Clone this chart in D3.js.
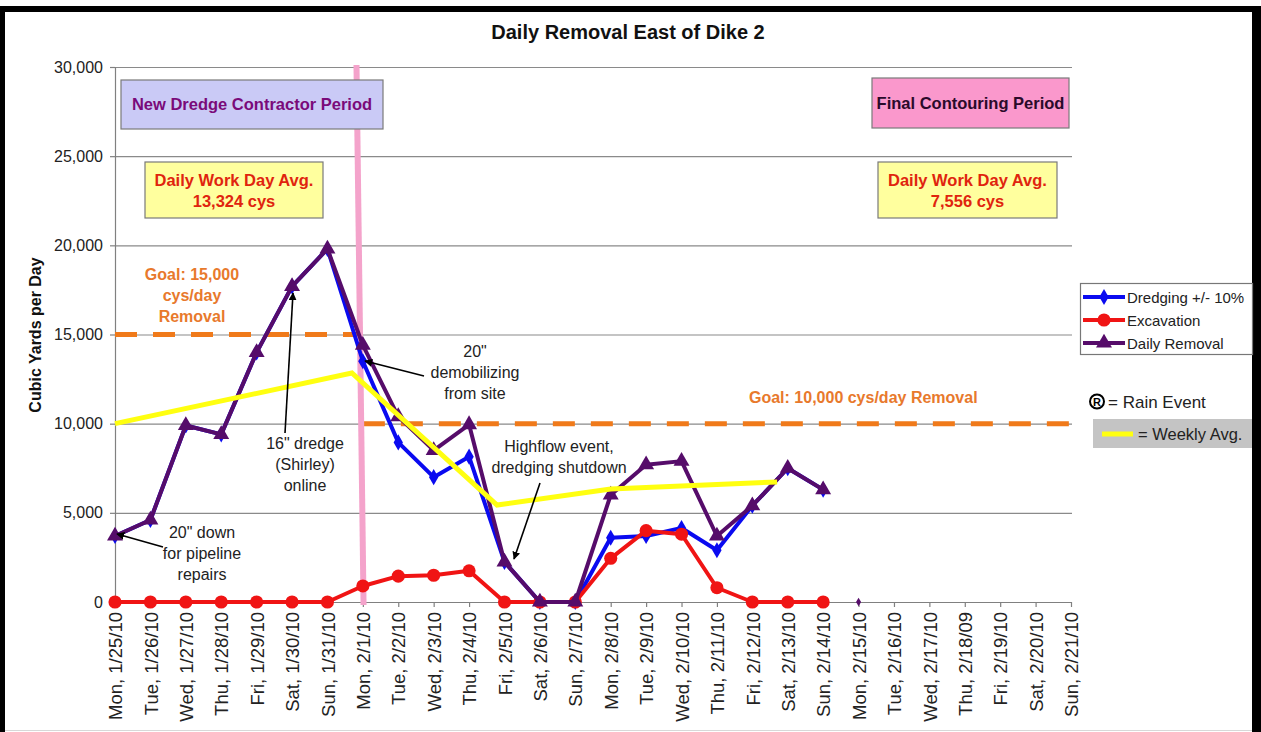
<!DOCTYPE html>
<html>
<head>
<meta charset="utf-8">
<script src="https://cdn.jsdelivr.net/npm/d3@7"></script>
<style>
  body { margin: 0; background: #fff; }
  text { font-family: Arial, "Liberation Sans", sans-serif; }
</style>
</head>
<body>
<div id="chart"></div>
<script>
// category labels (one per day)
var days = ["Mon, 1/25/10", "Tue, 1/26/10", "Wed, 1/27/10", "Thu, 1/28/10", "Fri, 1/29/10",
  "Sat, 1/30/10", "Sun, 1/31/10", "Mon, 2/1/10", "Tue, 2/2/10", "Wed, 2/3/10", "Thu, 2/4/10",
  "Fri, 2/5/10", "Sat, 2/6/10", "Sun, 2/7/10", "Mon, 2/8/10", "Tue, 2/9/10", "Wed, 2/10/10",
  "Thu, 2/11/10", "Fri, 2/12/10", "Sat, 2/13/10", "Sun, 2/14/10", "Mon, 2/15/10", "Tue, 2/16/10",
  "Wed, 2/17/10", "Thu, 2/18/09", "Fri, 2/19/10", "Sat, 2/20/10", "Sun, 2/21/10"];

// series values (cubic yards / day), first 21 days
var dredging = [3700, 4600, 9900, 9400, 14000, 17700, 19800, 13500, 8950, 7000, 8150,
  2250, 0, 0, 3600, 3700, 4150, 2900, 5400, 7500, 6300];
var excavation = [0, 0, 0, 0, 0, 0, 0, 900, 1450, 1500, 1750,
  0, 0, 0, 2450, 4000, 3800, 800, 0, 0, 0];
var dailyRemoval = [3700, 4600, 9900, 9400, 14000, 17700, 19800, 14400, 10400, 8500, 9950,
  2250, 0, 0, 6000, 7700, 7900, 3700, 5400, 7500, 6300];
var strayPoint = [{i: 21, v: 0}];

// weekly average trace (fractional day index, value)
var weeklyIdx = [0, 6.69, 10.79, 14.0, 18.7];
var weeklyVal = [10000, 12840, 5440, 6340, 6730];

// goals: [startIdx, endIdx, value]
var goals = [[0, 7, 15000], [7, 27, 10000]];
// period boundary (day index at top / bottom of plot)
var boundaryIdx = [6.82, 7.02];

var yTicks = [0, 5000, 10000, 15000, 20000, 25000, 30000];

var W = 1261, H = 732;
var plotL = 115, plotR = 1071, plotT = 67, plotB = 602;

var svg = d3.select("#chart").append("svg")
  .attr("width", W).attr("height", H);

// frame
svg.append("rect").attr("x", 0).attr("y", 6).attr("width", W).attr("height", H).attr("fill", "#000");
svg.append("rect").attr("x", 5).attr("y", 12).attr("width", 1247).attr("height", H).attr("fill", "#fff");
svg.append("line").attr("x1", 5).attr("x2", 1252).attr("y1", 730.5).attr("y2", 730.5)
  .attr("stroke", "#d8d8d8");

var x = d3.scalePoint().domain(days).range([plotL, plotR]);
var xi = d3.scaleLinear().domain([0, days.length - 1]).range([plotL, plotR]);
var y = d3.scaleLinear().domain([0, 30000]).range([plotB, plotT]);

// title
svg.append("text").attr("x", 628).attr("y", 39).attr("text-anchor", "middle")
  .attr("font-size", 20).attr("font-weight", "bold").attr("fill", "#111")
  .text("Daily Removal East of Dike 2");

// gridlines
svg.append("g")
  .attr("transform", `translate(${plotL},0)`)
  .call(d3.axisLeft(y).tickValues(yTicks).tickSize(-(plotR - plotL + 1)).tickFormat(""))
  .call(g => g.select(".domain").remove())
  .selectAll("line").attr("stroke", "#8a8a8a").attr("stroke-width", 1.2);

// y axis
var yAxis = svg.append("g")
  .attr("transform", `translate(${plotL},0)`)
  .call(d3.axisLeft(y).tickValues(yTicks).tickSize(5).tickPadding(7).tickFormat(d3.format(",")));
yAxis.selectAll("path,line").attr("stroke", "#808080").attr("stroke-width", 1.2);
yAxis.selectAll("text").attr("font-size", 16).attr("fill", "#222")
  .style("font-family", "Arial, 'Liberation Sans', sans-serif");

// x axis
var xAxis = svg.append("g")
  .attr("transform", `translate(0,${plotB})`)
  .call(d3.axisBottom(x).tickSize(5).tickSizeOuter(0));
xAxis.selectAll("path,line").attr("stroke", "#808080").attr("stroke-width", 1.2);
xAxis.selectAll("text")
  .attr("transform", "rotate(-90)")
  .attr("text-anchor", "end")
  .attr("x", -10).attr("y", 0).attr("dy", "0.36em")
  .attr("font-size", 18.5).attr("fill", "#222")
  .style("font-family", "Arial, 'Liberation Sans', sans-serif");

// y axis title
svg.append("text")
  .attr("transform", "rotate(-90)")
  .attr("x", -335).attr("y", 41)
  .attr("text-anchor", "middle")
  .attr("font-size", 16).attr("font-weight", "bold").attr("fill", "#111")
  .text("Cubic Yards per Day");

// goal lines
svg.selectAll("line.goal").data(goals).enter().append("line")
  .attr("class", "goal")
  .attr("x1", d => xi(d[0])).attr("x2", d => xi(d[1]))
  .attr("y1", d => y(d[2])).attr("y2", d => y(d[2]))
  .attr("stroke", "#F07A1A").attr("stroke-width", 5)
  .attr("stroke-dasharray", "22,16");

// period boundary
svg.append("line")
  .attr("x1", xi(boundaryIdx[0])).attr("x2", xi(boundaryIdx[1]))
  .attr("y1", plotT - 2).attr("y2", plotB + 3)
  .attr("stroke", "#F4A3CB").attr("stroke-width", 6);

// series
var series = [
  {name: "Dredging +/- 10%", values: dredging, color: "#0A0AF0", symbol: d3.symbolDiamond, size: 75},
  {name: "Excavation", values: excavation, color: "#F01414", symbol: d3.symbolCircle, size: 135},
  {name: "Daily Removal", values: dailyRemoval, color: "#560C6A", symbol: d3.symbolTriangle, size: 110}
];

var line = d3.line()
  .x((d, i) => x(days[i]))
  .y(d => y(d));

series.forEach(function(s) {
  svg.append("path")
    .datum(s.values)
    .attr("d", line)
    .attr("fill", "none")
    .attr("stroke", s.color)
    .attr("stroke-width", 4)
    .attr("stroke-linejoin", "round");
  svg.selectAll(null).data(s.values).enter()
    .append("path")
    .attr("transform", (d, i) => `translate(${x(days[i])},${y(d)})`)
    .attr("d", d3.symbol().type(s.symbol).size(s.size))
    .attr("fill", s.color);
});

svg.selectAll(null).data(strayPoint).enter()
  .append("path")
  .attr("transform", d => `translate(${xi(d.i)},${y(d.v)})`)
  .attr("d", d3.symbol().type(d3.symbolDiamond).size(22))
  .attr("fill", "#560C6A");

// weekly avg
svg.append("path")
  .datum(weeklyIdx.map((d, i) => [d, weeklyVal[i]]))
  .attr("d", d3.line().x(d => xi(d[0])).y(d => y(d[1])))
  .attr("fill", "none")
  .attr("stroke", "#FFFF10")
  .attr("stroke-width", 5);

// boxes
function box(x0, y0, w, h, fill, lines, color, baselines) {
  svg.append("rect").attr("x", x0).attr("y", y0).attr("width", w).attr("height", h)
    .attr("fill", fill).attr("stroke", "#7a7a7a").attr("stroke-width", 1.2);
  lines.forEach(function(t, k) {
    svg.append("text").attr("x", x0 + w / 2).attr("y", baselines[k])
      .attr("text-anchor", "middle").attr("font-size", 16.5).attr("font-weight", "bold")
      .attr("fill", color).text(t);
  });
}
box(121, 80, 262, 49, "#CACAF6", ["New Dredge Contractor Period"], "#7A0A7A", [110]);
box(145, 162, 178, 56, "#FFFF9E", ["Daily Work Day Avg.", "13,324 cys"], "#E0240E", [186, 207]);
box(872, 78, 197, 50, "#FA98CC", ["Final Contouring Period"], "#2A0A2A", [109]);
box(878, 162, 179, 56, "#FFFF9E", ["Daily Work Day Avg.", "7,556 cys"], "#E0240E", [186, 207]);

// annotations
function note(cx, lines, baselines, opts) {
  opts = opts || {};
  lines.forEach(function(t, k) {
    svg.append("text").attr("x", cx).attr("y", baselines[k])
      .attr("text-anchor", opts.anchor || "middle").attr("font-size", 16)
      .attr("font-weight", opts.bold ? "bold" : "normal")
      .attr("fill", opts.color || "#222").text(t);
  });
}
note(192, ["Goal: 15,000", "cys/day", "Removal"], [280, 301, 322], {bold: true, color: "#E8792C"});
note(749, ["Goal: 10,000 cys/day Removal"], [403], {bold: true, color: "#E8792C", anchor: "start"});
note(305, ["16\" dredge", "(Shirley)", "online"], [449, 470, 491]);
note(202, ["20\" down", "for pipeline", "repairs"], [538, 559, 580]);
note(475, ["20\"", "demobilizing", "from site"], [357, 378, 399]);
note(559, ["Highflow event,", "dredging shutdown"], [452, 473]);

// arrows
svg.append("defs").append("marker")
  .attr("id", "arr").attr("viewBox", "0 0 10 10").attr("refX", 9).attr("refY", 5)
  .attr("markerWidth", 5).attr("markerHeight", 5).attr("orient", "auto")
  .append("path").attr("d", "M0,0L10,5L0,10z").attr("fill", "#000");
var arrows = [[285, 433, 293, 293], [163, 547, 117, 534], [424, 376, 365, 361], [540, 483, 514, 559]];
svg.selectAll("line.arrow").data(arrows).enter().append("line")
  .attr("x1", d => d[0]).attr("y1", d => d[1]).attr("x2", d => d[2]).attr("y2", d => d[3])
  .attr("stroke", "#000").attr("stroke-width", 1.6).attr("marker-end", "url(#arr)");

// legend
var lg = svg.append("g");
lg.append("rect").attr("x", 1080.5).attr("y", 283.5).attr("width", 172).attr("height", 71)
  .attr("fill", "#fff").attr("stroke", "#777").attr("stroke-width", 1.2);
series.forEach(function(s, k) {
  var ly = 297 + k * 23;
  lg.append("line").attr("x1", 1083).attr("x2", 1125).attr("y1", ly).attr("y2", ly)
    .attr("stroke", s.color).attr("stroke-width", 4);
  lg.append("path").attr("transform", `translate(1104,${ly})`)
    .attr("d", d3.symbol().type(s.symbol).size(s.size)).attr("fill", s.color);
  lg.append("text").attr("x", 1127).attr("y", ly + 5.5).attr("font-size", 15).attr("fill", "#222")
    .text(s.name);
});

// rain event key
lg.append("circle").attr("cx", 1097).attr("cy", 401.5).attr("r", 7)
  .attr("fill", "none").attr("stroke", "#000").attr("stroke-width", 2);
lg.append("text").attr("x", 1097).attr("y", 405.5).attr("text-anchor", "middle")
  .attr("font-size", 11).attr("font-weight", "bold").attr("fill", "#000").text("R");
lg.append("text").attr("x", 1108).attr("y", 408).attr("font-size", 17).attr("fill", "#222")
  .text("= Rain Event");

// weekly avg key
lg.append("rect").attr("x", 1093).attr("y", 419).attr("width", 159).attr("height", 29).attr("fill", "#C4C4C4");
lg.append("line").attr("x1", 1102).attr("x2", 1133).attr("y1", 434).attr("y2", 434)
  .attr("stroke", "#FFFF10").attr("stroke-width", 5);
lg.append("text").attr("x", 1138).attr("y", 440).attr("font-size", 16.5).attr("fill", "#222")
  .text("= Weekly Avg.");
</script>
</body>
</html>
